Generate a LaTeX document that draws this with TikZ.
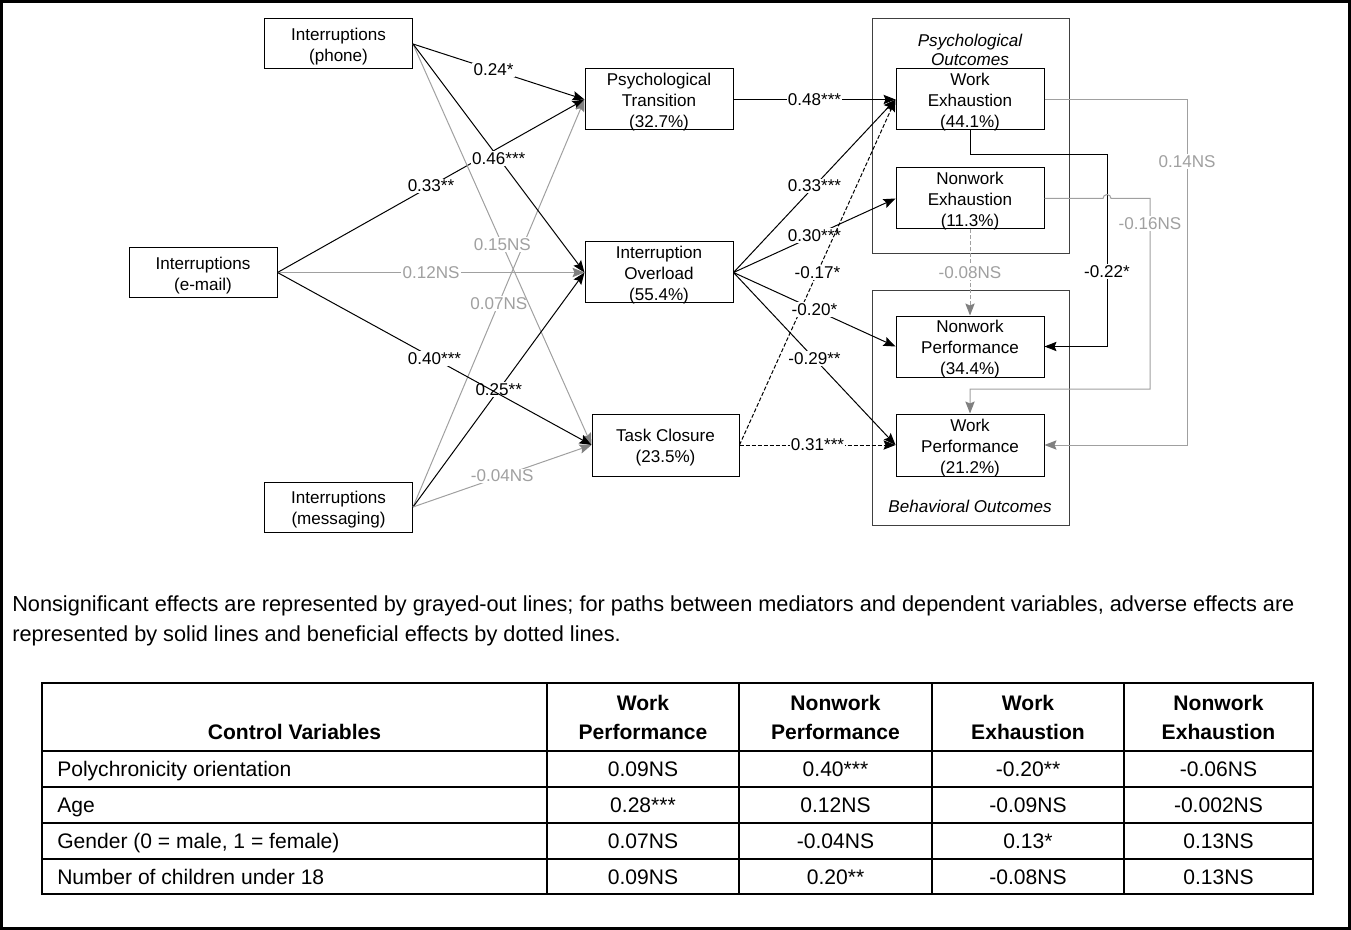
\documentclass[tikz,border=0pt]{standalone}
\usepackage{fontspec}
\setmainfont{Liberation Sans}
\usepackage{xcolor}
\definecolor{nsgray}{HTML}{A0A0A0}
\definecolor{nstip}{HTML}{808080}
\definecolor{groupedge}{HTML}{404040}
\usepackage{tikz}
\usetikzlibrary{arrows.meta, positioning}
\newcommand{\boxfont}{\fontsize{12.8}{15.75}\selectfont}
\newcommand{\grpfont}{\fontsize{12.8}{14.3}\selectfont\itshape}
\newcommand{\tabfont}{\fontsize{15.8}{21.75}\selectfont}
\newcommand{\notefont}{\fontsize{16.3}{22.5}\selectfont}
\newcommand{\bs}{\rule{0pt}{13.2pt}}
\tikzset{
    var/.style = {draw=black, line width=0.75pt, fill=white, align=center,
                  inner xsep=0pt, inner ysep=-1.2pt, minimum width=111pt, minimum height=45.75pt, font=\boxfont},
    src/.style = {var, minimum height=37.5pt},
    group/.style = {draw=groupedge, line width=0.75pt},
    sig/.style = {-{Stealth[length=9pt, width=7pt, inset=1.5pt]}, line width=0.75pt, color=black},
    ns/.style = {-{Stealth[length=9pt, width=7pt, inset=1.5pt, color=nstip]}, line width=0.75pt, color=nsgray},
    good/.style = {sig, dash pattern=on 3pt off 1.5pt},
    coef/.style = {fill=white, inner sep=1pt, font=\boxfont, text=black},
    nscoef/.style = {coef, text=nsgray},
    tabline/.style = {line width=2.2pt},
    cell/.style = {font=\tabfont, inner sep=0pt},
}

\begin{document}
\begin{tikzpicture}[x=0.75pt, y=-0.75pt]
        \useasboundingbox (0,0) rectangle (1351,930);
        % frame
        \draw[line width=2.2pt] (1.5,1.5) rectangle (1349.5,928.5);
        % outcome groups
        \draw[group] (872,19) rectangle (1069,254);
        \draw[group] (872,291) rectangle (1069,525);
        \node[font=\grpfont, align=center] (psygrp) at (970,49.5) {Psychological\\Outcomes};
        \node[font=\grpfont] (behgrp) at (970,506) {Behavioral Outcomes};
        % interruption sources
        \node[src] (phone) at (338.5,44) {\bs Interruptions\\(phone)};
        \node[src] (email) at (203,272.5) {\bs Interruptions\\(e-mail)};
        \node[src] (msg) at (338.5,507) {\bs Interruptions\\(messaging)};
        % mediators
        \node[var] (trans) at (659,99.5) {\bs Psychological\\Transition\\(32.7\%)};
        \node[var] (overload) at (659,272.5) {\bs Interruption\\Overload\\(55.4\%)};
        \node[var, minimum width=110.25pt, minimum height=46.5pt] (closure) at (665.5,445) {\bs Task Closure\\(23.5\%)};
        % outcomes
        \node[var] (wexh) at (970,99.5) {\bs Work\\Exhaustion\\(44.1\%)};
        \node[var] (nexh) at (970,198.5) {\bs Nonwork\\Exhaustion\\(11.3\%)};
        \node[var] (nperf) at (970,346.5) {\bs Nonwork\\Performance\\(34.4\%)};
        \node[var, minimum height=46.5pt] (wperf) at (970,445) {\bs Work\\Performance\\(21.2\%)};
        % sources to mediators
        \draw[sig] (email.east) -- node[coef]{0.33**} (trans.west);
        \draw[sig] (phone.east) -- node[coef, pos=0.47]{0.24*} (trans.west);
        \draw[ns] (msg.east) -- node[nscoef]{0.07NS} (trans.west);
        \draw[ns] (phone.east) -- node[nscoef]{0.15NS} (closure.west);
        \draw[sig] (phone.east) -- node[coef]{0.46***} (overload.west);
        \draw[ns] (email.east) -- node[nscoef]{0.12NS} (overload.west);
        \draw[sig] (msg.east) -- node[coef]{0.25**} (overload.west);
        \draw[sig] (email.east) -- node[coef]{0.40***} (closure.west);
        \draw[ns] (msg.east) -- node[nscoef]{-0.04NS} (closure.west);
        % mediators to outcomes
        \draw[sig] (trans.east) -- node[coef]{0.48***} (wexh.west);
        \draw[sig] (overload.east) -- node[coef]{0.33***} (wexh.west);
        \draw[sig] (overload.east) -- node[coef]{0.30***} (nexh.west);
        \draw[good] (closure.east) -- node[coef]{-0.17*} (wexh.west);
        \draw[sig] (overload.east) -- node[coef]{-0.20*} (nperf.west);
        \draw[sig] (overload.east) -- node[coef]{-0.29**} (wperf.west);
        \draw[good] (closure.east) -- node[coef]{0.31***} (wperf.west);
        % outcome to outcome
        \coordinate (weturn) at (1107,155);
        \coordinate (npturn) at (1107,346.5);
        \coordinate (hopin) at (1103,198.5);
        \coordinate (neturn) at (1150,198.5);
        \coordinate (nedown) at (1150,389);
        \coordinate (wetop) at (1187,99.5);
        \coordinate (webot) at (1187,445);
        \draw[ns] (wexh.east) -- (wetop) -- node[nscoef, pos=0.18]{0.14NS} (webot) -- (wperf.east);
        \draw[sig] (wexh.south) |- (weturn) -- node[coef, pos=0.61]{-0.22*} (npturn) -- (nperf.east);
        \draw[ns] (nexh.east) -- (hopin) arc[start angle=180, end angle=360, radius=4]
              -- (neturn) -- node[nscoef, pos=0.13]{-0.16NS} (nedown) -| (wperf.north);
        \draw[ns, dash pattern=on 3pt off 1.5pt] (nexh.south) -- node[nscoef]{-0.08NS} (nperf.north);
        % note
        \node[cell, font=\notefont, anchor=base west] (note1) at (12,611) {Nonsignificant effects are represented by grayed-out lines; for paths between mediators and dependent variables, adverse effects are};
        \node[cell, font=\notefont, anchor=base west] (note2) at (12,641) {represented by solid lines and beneficial effects by dotted lines.};
        % control table
        \draw[tabline] (42,683) rectangle (1313,894);
        \foreach \x in {547,739,932,1124} \draw[tabline] (\x,683) -- (\x,894);
        \foreach \y in {751,787,823,859} \draw[tabline] (42,\y) -- (1313,\y);
        \node[cell, font=\tabfont\bfseries, anchor=base] (hdctl) at (294.5,739.5) {Control Variables};
        \node[cell, font=\tabfont\bfseries, align=center] (hdwp) at (643,717.5) {Work\\Performance};
        \node[cell, font=\tabfont\bfseries, align=center] (hdnp) at (835.5,717.5) {Nonwork\\Performance};
        \node[cell, font=\tabfont\bfseries, align=center] (hdwe) at (1028,717.5) {Work\\Exhaustion};
        \node[cell, font=\tabfont\bfseries, align=center] (hdne) at (1218.5,717.5) {Nonwork\\Exhaustion};
        \foreach \y/\lab/\wp/\np/\we/\ne [count=\r] in {
            776.5/Polychronicity orientation/0.09NS/0.40***/-0.20**/-0.06NS,
            812.5/Age/0.28***/0.12NS/-0.09NS/-0.002NS,
            848.5/{Gender (0 = male, 1 = female)}/0.07NS/-0.04NS/0.13*/0.13NS,
            884/Number of children under 18/0.09NS/0.20**/-0.08NS/0.13NS} {
          \node[cell, anchor=base west] (ctl\r) at (57,\y) {\lab};
          \node[cell, anchor=base] (wp\r) at (643,\y) {\wp};
          \node[cell, anchor=base] (np\r) at (835.5,\y) {\np};
          \node[cell, anchor=base] (we\r) at (1028,\y) {\we};
          \node[cell, anchor=base] (ne\r) at (1218.5,\y) {\ne};
        }
      \end{tikzpicture}
\end{document}
